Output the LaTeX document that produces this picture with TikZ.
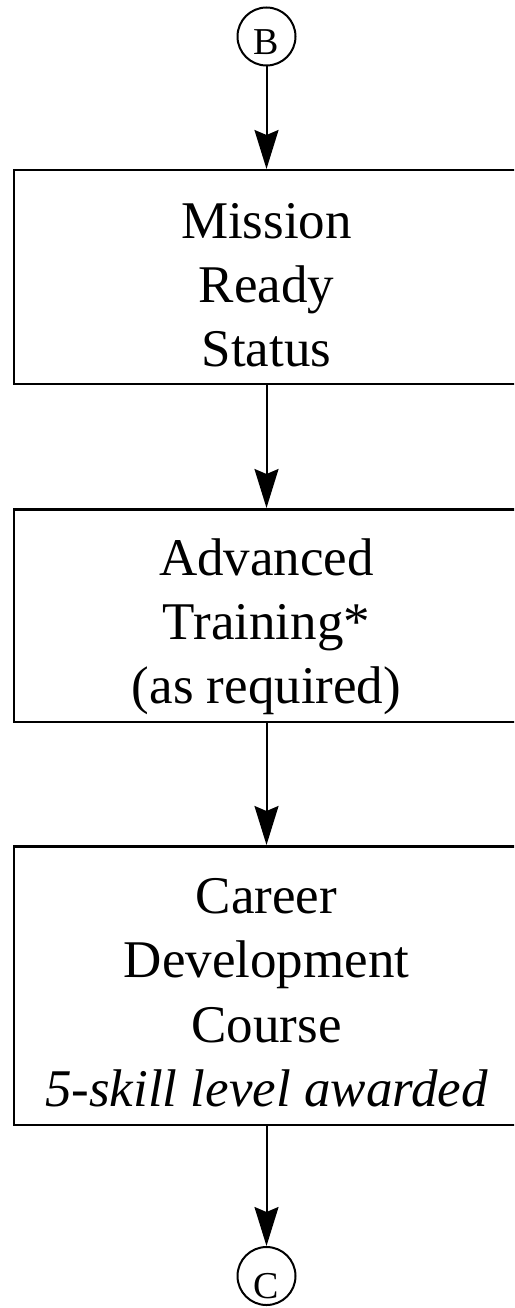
\documentclass[tikz,border=0pt]{standalone}
\usepackage{fontspec}
\setmainfont{Liberation Serif}
\usetikzlibrary{arrows.meta}
\begin{document}
\begin{tikzpicture}[x=1pt,y=-1pt,
  conn/.style={draw, circle, line width=2pt, minimum size=58pt, inner sep=0pt,
    text depth=0pt, font=\fontsize{38}{38}\selectfont},
  stepbox/.style={draw, rectangle, line width=2.5pt, minimum width=505.5pt,
    align=center, inner sep=0pt},
  flow/.style={line width=2pt, -{Stealth[length=39pt, width=24pt, inset=5pt]}}]
\useasboundingbox (0,0) rectangle (514,1308);
\clip (0,0) rectangle (514,1308);
\node[conn, text height=37pt] (B) at (266.5,36.5) {B};
\node[stepbox, minimum height=213.5pt, font=\fontsize{53}{64}\selectfont] (s1) at (266.5,277)
  {\rule{0pt}{60pt}Mission\\Ready\\Status\rule[-10pt]{0pt}{10pt}};
\node[stepbox, minimum height=212.5pt, font=\fontsize{53}{64}\selectfont] (s2) at (266.5,615.5)
  {\rule{0pt}{61pt}Advanced\\Training*\\(as required)\rule[-14pt]{0pt}{14pt}};
\node[stepbox, minimum height=278.5pt, font=\fontsize{53}{64.5}\selectfont] (s3) at (266.5,985.5)
  {\rule{0pt}{58.5pt}Career\\Development\\Course\\\textit{5-skill level awarded}\rule[-10pt]{0pt}{10pt}};
\node[conn, text height=45pt] (C) at (266.5,1276) {C};
\draw[flow] (B) -- (s1);
\draw[flow] (s1) -- (s2);
\draw[flow] (s2) -- (s3);
\draw[flow] (s3) -- (C);
\end{tikzpicture}
\end{document}
